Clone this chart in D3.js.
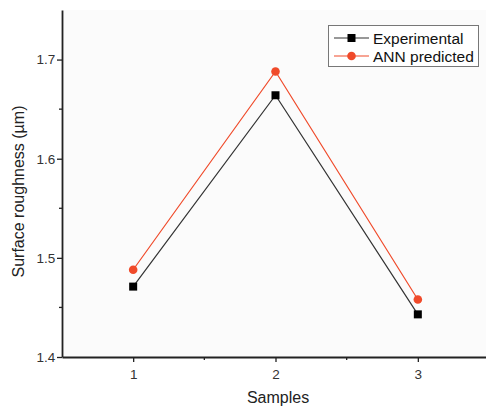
<!DOCTYPE html>
<html>
<head>
<meta charset="utf-8">
<script src="https://cdn.jsdelivr.net/npm/d3@7"></script>
<style>
  body { margin: 0; background: #fff; }
  text { font-family: "Liberation Sans", Arial, Helvetica, sans-serif; }
</style>
</head>
<body>
<svg id="chart" width="486" height="410"></svg>
<script>
// Samples and surface roughness values (µm)
const samples = [1, 2, 3];
const experimental = [1.471, 1.664, 1.443];
const annPredicted = [1.488, 1.688, 1.458];
const yTicks = [1.4, 1.5, 1.6, 1.7];
const yMinorTicks = [1.45, 1.55, 1.65];
const xMinorTicks = [1.5, 2.5];

const svg = d3.select("#chart");
const plotLeft = 62, plotRight = 489, plotTop = 10, plotBottom = 357;

const x = d3.scaleLinear().domain([0.5, 3.5]).range([plotLeft, plotRight]);
const y = d3.scaleLinear().domain([1.4, 1.75]).range([plotBottom, plotTop]);

// plot background
svg.append("rect")
  .attr("x", plotLeft).attr("y", plotTop)
  .attr("width", 486 - plotLeft).attr("height", plotBottom - plotTop)
  .attr("fill", "#fbfbfb");

// y axis
const yAxis = svg.append("g")
  .attr("transform", `translate(${plotLeft},0)`)
  .call(d3.axisLeft(y).tickValues(yTicks).tickFormat(d3.format(".1f")).tickSize(5).tickSizeOuter(0));
yAxis.append("g").selectAll("line").data(yMinorTicks).join("line")
  .attr("x1", 0).attr("x2", -3)
  .attr("y1", d => y(d)).attr("y2", d => y(d))
  .attr("stroke", "#222").attr("stroke-width", 1.3);

// x axis
const xAxis = svg.append("g")
  .attr("transform", `translate(0,${plotBottom})`)
  .call(d3.axisBottom(x).tickValues(samples).tickFormat(d3.format("d")).tickSize(5).tickSizeOuter(0));
xAxis.append("g").selectAll("line").data(xMinorTicks).join("line")
  .attr("x1", d => x(d)).attr("x2", d => x(d))
  .attr("y1", 0).attr("y2", 3)
  .attr("stroke", "#222").attr("stroke-width", 1.3);

[yAxis, xAxis].forEach(g => {
  g.select(".domain").attr("stroke", "#222").attr("stroke-width", 1.8);
  g.selectAll(".tick line").attr("stroke", "#222").attr("stroke-width", 1.3);
  g.selectAll(".tick text").attr("fill", "#333").style("font-size", "13.5px")
    .style("font-family", "Liberation Sans, Arial, sans-serif");
});
xAxis.selectAll(".tick text").attr("dy", "1.05em");
yAxis.selectAll(".tick text").attr("dx", "0.1em");

// axis titles
svg.append("text")
  .attr("x", (plotLeft + 486) / 2 + 4).attr("y", 403)
  .attr("text-anchor", "middle").attr("fill", "#222")
  .style("font-size", "16px").text("Samples");
svg.append("text")
  .attr("transform", `translate(24,${(plotTop + plotBottom) / 2 + 8}) rotate(-90)`)
  .attr("text-anchor", "middle").attr("fill", "#222")
  .style("font-size", "16px").text("Surface roughness (µm)");

const line = d3.line().x((d, i) => x(samples[i])).y(d => y(d));

// ANN predicted series
svg.append("path").datum(annPredicted)
  .attr("d", line).attr("fill", "none")
  .attr("stroke", "#f04a2a").attr("stroke-width", 1.2);
svg.selectAll("circle.ann").data(annPredicted).join("circle")
  .attr("class", "ann")
  .attr("cx", (d, i) => x(samples[i])).attr("cy", d => y(d))
  .attr("r", 4.3).attr("fill", "#f04a2a");

// Experimental series
svg.append("path").datum(experimental)
  .attr("d", line).attr("fill", "none")
  .attr("stroke", "#333").attr("stroke-width", 1.2);
svg.selectAll("rect.exp").data(experimental).join("rect")
  .attr("class", "exp")
  .attr("x", (d, i) => x(samples[i]) - 4).attr("y", d => y(d) - 4)
  .attr("width", 8).attr("height", 8).attr("fill", "#000");

// legend
const legend = svg.append("g");
legend.append("rect")
  .attr("x", 328.5).attr("y", 25.5).attr("width", 150).attr("height", 41)
  .attr("fill", "#fff").attr("stroke", "#777").attr("stroke-width", 1);
const items = [
  { label: "Experimental", color: "#333", mark: "square", fill: "#000", y: 38 },
  { label: "ANN predicted", color: "#f04a2a", mark: "circle", fill: "#f04a2a", y: 56 }
];
items.forEach(it => {
  legend.append("line")
    .attr("x1", 334).attr("x2", 369).attr("y1", it.y).attr("y2", it.y)
    .attr("stroke", it.color).attr("stroke-width", 1.2);
  if (it.mark === "square") {
    legend.append("rect").attr("x", 347.5).attr("y", it.y - 4)
      .attr("width", 8).attr("height", 8).attr("fill", it.fill);
  } else {
    legend.append("circle").attr("cx", 351.5).attr("cy", it.y).attr("r", 4.3).attr("fill", it.fill);
  }
  legend.append("text")
    .attr("x", 373).attr("y", it.y + 5.5)
    .attr("fill", "#111").style("font-size", "15.5px").text(it.label);
});
</script>
</body>
</html>
